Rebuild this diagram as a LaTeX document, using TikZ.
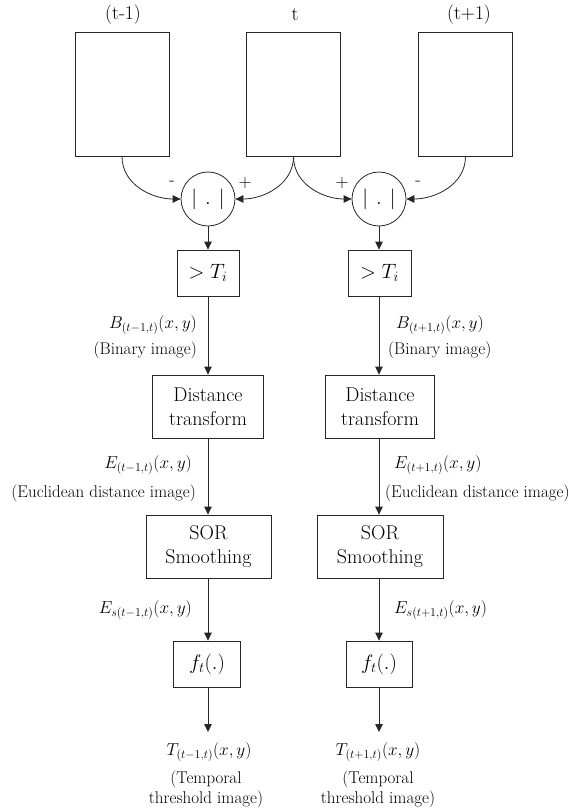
\documentclass[tikz,border=0pt]{standalone}
\usetikzlibrary{arrows.meta}
\begin{document}
\begin{tikzpicture}[x=1pt,y=-1pt,
  ln/.style={draw=black!85, line width=0.8pt},
  arr/.style={ln, -{Triangle[length=8pt,width=7.5pt]}},
  imgbox/.style={draw=black!85, line width=0.8pt, minimum width=94pt, minimum height=124pt, inner sep=0pt},
  procbox/.style={draw=black!85, line width=0.8pt, align=center, inner sep=0pt, font=\fontsize{20}{23.5}\selectfont},
  opcirc/.style={circle, draw=black!85, line width=0.8pt, minimum size=54pt, inner sep=0pt, font=\fontsize{21}{21}\selectfont},
  toplbl/.style={inner sep=0pt, font=\fontsize{19.5}{20}\selectfont},
  sgn/.style={inner sep=0pt, font=\fontsize{18}{18}\selectfont},
  mlbl/.style={inner sep=0pt, font=\fontsize{18.5}{20}\selectfont},
  tlbl/.style={inner sep=0pt, font=\fontsize{17}{19}\selectfont}
]
\useasboundingbox (0,0) rectangle (573,811);

% frames
\node[imgbox] (im1) at (122,94) {};
\node[imgbox] (im2) at (293.5,94) {};
\node[imgbox] (im3) at (465.5,94) {};
\node[toplbl] (lt1) at (123,15) {(t-1)};
\node[toplbl] (lt2) at (295,15) {t};
\node[toplbl] (lt3) at (469,15) {(t+1)};

% difference operators
\node[opcirc] (c1) at (208,199) {$|\hspace{8pt}.\hspace{8pt}|$};
\node[opcirc] (c2) at (379,199) {$|\hspace{8pt}.\hspace{8pt}|$};

\draw[arr] (im1.south) to[out=-90,in=180] (c1.west);
\draw[arr] (im2.south) to[out=-90,in=0] (c1.east);
\draw[arr] (im2.south) to[out=-90,in=180] (c2.west);
\draw[arr] (im3.south) to[out=-90,in=0] (c2.east);

\node[sgn] (s1) at (172,183) {-};
\node[sgn] (s2) at (245,183) {+};
\node[sgn] (s3) at (342,183) {+};
\node[sgn] (s4) at (418,183) {-};

% threshold
\node[procbox, minimum width=62pt, minimum height=46pt] (th1) at (208,273) {$>T_i$};
\node[procbox, minimum width=63pt, minimum height=46pt] (th2) at (379.5,273) {$>T_i$};
% distance transform
\node[procbox, minimum width=111pt, minimum height=63pt] (dt1) at (208,406.5) {Distance\\transform};
\node[procbox, minimum width=109pt, minimum height=63pt] (dt2) at (380,406.5) {Distance\\transform};
% SOR
\node[procbox, minimum width=125pt, minimum height=63pt] (so1) at (208.5,546.5) {SOR\\Smoothing};
\node[procbox, minimum width=126pt, minimum height=63pt] (so2) at (380,546.5) {SOR\\Smoothing};
% f
\node[procbox, minimum width=67pt, minimum height=46pt] (f1) at (207,664) {$f_t(.)$};
\node[procbox, minimum width=66pt, minimum height=46pt] (f2) at (379,664) {$f_t(.)$};

\coordinate (o1) at (208,732);
\coordinate (o2) at (379,732);

\draw[arr] (c1.south) -- (c1.south |- th1.north);
\draw[arr] (c2.south) -- (c2.south |- th2.north);
\draw[arr] (th1.south -| c1.south) -- (c1.south |- dt1.north);
\draw[arr] (th2.south -| c2.south) -- (c2.south |- dt2.north);
\draw[arr] (dt1.south -| c1.south) -- (c1.south |- so1.north);
\draw[arr] (dt2.south -| c2.south) -- (c2.south |- so2.north);
\draw[arr] (so1.south -| c1.south) -- (c1.south |- f1.north);
\draw[arr] (so2.south -| c2.south) -- (c2.south |- f2.north);
\draw[arr] (f1.south -| c1.south) -- (o1);
\draw[arr] (f2.south -| c2.south) -- (o2);

% left labels
\node[mlbl, anchor=east] (b1) at (197,325) {$B_{(t-1,t)}(x,y)$};
\node[tlbl, anchor=east] (b1t) at (197,350) {(Binary image)};
\node[mlbl, anchor=east] (e1) at (192,465) {$E_{(t-1,t)}(x,y)$};
\node[tlbl, anchor=east] (e1t) at (196,493) {(Euclidean distance image)};
\node[mlbl, anchor=east] (es1) at (192,610) {$E_{s(t-1,t)}(x,y)$};
% right labels
\node[mlbl, anchor=west] (b2) at (396,325) {$B_{(t+1,t)}(x,y)$};
\node[tlbl, anchor=west] (b2t) at (388,350) {(Binary image)};
\node[mlbl, anchor=west] (e2) at (394,465) {$E_{(t+1,t)}(x,y)$};
\node[tlbl, anchor=west] (e2t) at (385,493) {(Euclidean distance image)};
\node[mlbl, anchor=west] (es2) at (394,610) {$E_{s(t+1,t)}(x,y)$};

% outputs
\node[mlbl] (t1) at (209,752) {$T_{(t-1,t)}(x,y)$};
\node[tlbl] (t1a) at (206,779) {(Temporal};
\node[tlbl] (t1b) at (206,799) {threshold image)};
\node[mlbl] (t2) at (378,752) {$T_{(t+1,t)}(x,y)$};
\node[tlbl] (t2a) at (378,779) {(Temporal};
\node[tlbl] (t2b) at (378,799) {threshold image)};
\end{tikzpicture}
\end{document}
